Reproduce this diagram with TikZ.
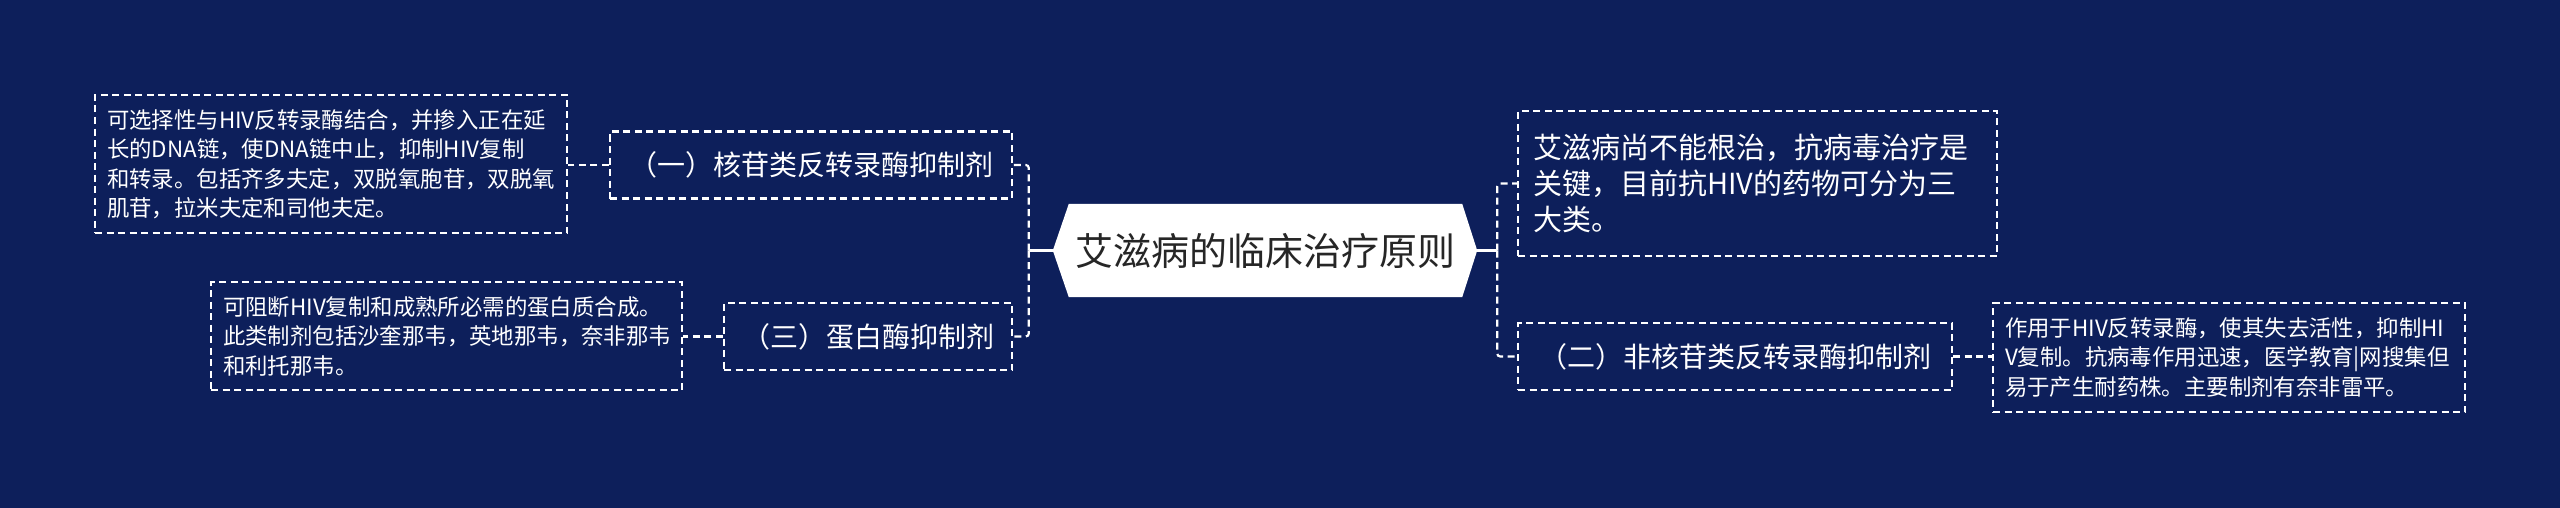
\documentclass[tikz,border=0pt]{standalone}
\usepackage{fontspec}
\newfontfamily\cjk{Noto Sans CJK SC}
\usetikzlibrary{backgrounds,calc}
\definecolor{bgc}{RGB}{13,31,91}
\definecolor{roottxt}{RGB}{38,38,38}
\begin{document}
\begin{tikzpicture}[x=1pt,y=-1pt,
  dline/.style={draw=white, line width=2.2pt, dash pattern=on 7pt off 4.5pt},
  stubline/.style={draw=white, line width=2.2pt},
  conn/.style={dline, rounded corners=3pt},
  titlebox/.style={dline, inner sep=0pt, text=white, align=center,
    font=\cjk\fontsize{28}{34}\selectfont, minimum height=67pt},
  detailbox/.style={dline, inner xsep=12pt, inner ysep=0pt, text=white, align=left,
    font=\cjk\fontsize{22.4}{29.5}\selectfont},
  rootbox/.style={inner sep=0pt, minimum width=424pt, minimum height=93pt,
    text=roottxt, font=\cjk\fontsize{38}{46}\selectfont}
]
\useasboundingbox (0,0) rectangle (2560,508);

% root
\node[rootbox] (root) at (1265,250.5) {艾滋病的临床治疗原则};

% left branch
\node[titlebox, minimum width=402pt] (b1) at (811,165) {（一）核苷类反转录酶抑制剂};
\node[detailbox, text width=448pt, minimum height=138pt] (d1) at (331,164)
  {可选择性与HIV反转录酶结合，并掺入正在延\\长的DNA链，使DNA链中止，抑制HIV复制\\和转录。包括齐多夫定，双脱氧胞苷，双脱氧\\肌苷，拉米夫定和司他夫定。};
\node[titlebox, minimum width=288pt] (b3) at (868,336.5) {（三）蛋白酶抑制剂};
\node[detailbox, text width=447pt, minimum height=108pt] (d3) at (446.5,336)
  {可阻断HIV复制和成熟所必需的蛋白质合成。\\此类制剂包括沙奎那韦，英地那韦，奈非那韦\\和利托那韦。};

% right branch
\node[detailbox, inner xsep=15pt, text width=449pt, minimum height=145pt,
  font=\cjk\fontsize{29}{36}\selectfont] (t1) at (1757.5,183.5)
  {艾滋病尚不能根治，抗病毒治疗是\\关键，目前抗HIV的药物可分为三\\大类。};
\node[titlebox, minimum width=434pt] (b2) at (1735,356.5) {（二）非核苷类反转录酶抑制剂};
\node[detailbox, text width=448pt, minimum height=109pt] (d2) at (2229,357.5)
  {作用于HIV反转录酶，使其失去活性，抑制HI\\V复制。抗病毒作用迅速，医学教育|网搜集但\\易于产生耐药株。主要制剂有奈非雷平。};

% background and root hexagon
\begin{pgfonlayer}{background}
  \fill[bgc] (0,0) rectangle (2560,508);
  \fill[white] (root.west) -- ($(root.north west)+(16,0)$) -- ($(root.north east)+(-15,0)$)
    -- (root.east) -- ($(root.south east)+(-15,0)$) -- ($(root.south west)+(16,0)$) -- cycle;
\end{pgfonlayer}

% connectors
\coordinate (jl) at ($(root.west)+(-24,0)$);
\coordinate (jr) at ($(root.east)+(20,0)$);
\draw[stubline] (root.west) -- (jl);
\draw[stubline] (root.east) -- (jr);
\draw[conn] (jl) |- (b1.east);
\draw[conn] (jl) |- (b3.east);
\draw[conn] (jr) |- (t1.west);
\draw[conn] (jr) |- (b2.west);
\draw[dline] (b1.west) -- (b1.west -| d1.east);
\draw[dline] (b3.west) -- (b3.west -| d3.east);
\draw[dline] (b2.east) -- (b2.east -| d2.west);
\end{tikzpicture}
\end{document}
